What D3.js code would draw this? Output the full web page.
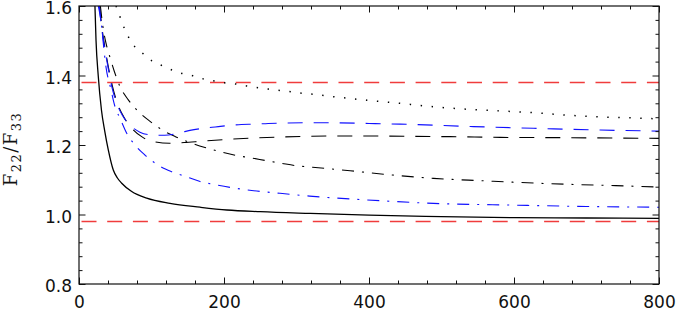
<!DOCTYPE html>
<html>
<head>
<meta charset="utf-8">
<script src="https://cdn.jsdelivr.net/npm/d3@7"></script>
<style>body{margin:0;background:#fff}</style>
</head>
<body>
<svg width="677" height="311"></svg>
<script>
// values
const xMajor = [0, 200, 400, 600, 800];
const yMajor = [0.8, 1.0, 1.2, 1.4, 1.6];
const refLines = [1.38, 0.98];

const solidLine = [[22,1.6],[23.5,1.5],[26.5,1.4],[31,1.3],[35.5,1.24],[40.4,1.186],[47.3,1.128],[53,1.105],[58.9,1.090],
  [72.7,1.066],[93.4,1.047],[125.5,1.032],[167,1.021],[204,1.013],[250,1.008],[319,1.003],[400,0.998],[500,0.994],
  [600,0.991],[700,0.990],[800,0.989]];
const blueDashDot = [[26.6,1.6],[31.3,1.54],[33.5,1.493],[37.2,1.425],[43.7,1.363],[49.7,1.31],[56.6,1.277],[65.8,1.234],
  [77.2,1.2],[91,1.171],[109,1.142],[128,1.123],[148,1.109],[167,1.095],[190,1.085],[231,1.071],[277,1.061],[318,1.053],
  [397,1.042],[489,1.032],[599,1.027],[700,1.023],[800,1.021]];
const blackDashDot = [[29.5,1.6],[33,1.54],[37,1.495],[42.8,1.452],[49,1.41],[56.6,1.368],[68,1.33],[82,1.296],[98,1.268],
  [115,1.243],[133,1.224],[153,1.207],[175,1.192],[194,1.181],[216,1.170],[237,1.163],[258,1.155],[280,1.147],[301,1.140],
  [322,1.136],[374,1.126],[420,1.116],[489,1.104],[558,1.097],[599,1.093],[673,1.087],[740,1.083],[800,1.079]];
const blackDash = [[28.5,1.6],[31.5,1.54],[35,1.49],[40,1.43],[46,1.37],[53,1.32],[62,1.28],[73,1.248],[88,1.222],[105,1.209],
  [125,1.205],[145,1.207],[170,1.211],[204,1.216],[240,1.220],[277,1.223],[314,1.225],[350,1.226],[400,1.226],[450,1.225],
  [512,1.224],[581,1.222],[673,1.221],[800,1.219]];
const blueDash = [[28,1.6],[31,1.54],[34.5,1.49],[39.5,1.43],[45,1.37],[52,1.32],[60,1.285],[70,1.258],[84,1.237],[100,1.229],
  [118,1.228],[139,1.235],[153,1.242],[171,1.248],[188,1.252],[206,1.256],[224,1.259],[243,1.260],[261,1.262],[280,1.263],
  [314,1.264],[340,1.264],[400,1.262],[443,1.260],[544,1.253],[627,1.248],[719,1.243],[800,1.240]];
const dotted = [[51,1.6],[54,1.585],[58,1.56],[68,1.512],[77,1.483],[89,1.462],[100,1.443],[115,1.428],[128,1.416],[142,1.406],
  [158,1.399],[172,1.390],[188,1.384],[201,1.379],[218,1.375],[231,1.370],[247,1.365],[261,1.361],[277,1.357],[293,1.353],
  [307,1.349],[323,1.346],[351,1.339],[397,1.329],[443,1.320],[489,1.310],[535,1.303],[581,1.298],[627,1.293],[673,1.286],
  [719,1.281],[778,1.277],[800,1.275]];

const svg = d3.select("svg");
const pl = 79, pr = 659, pt = 6, pb = 284;

const x = d3.scaleLinear().domain([0, 800]).range([pl, pr]);
const y = d3.scaleLinear().domain([0.8, 1.6]).range([pb, pt]);

const xMinor = d3.range(0, 801, 40).filter(v => v % 200 != 0);
const yMinor = d3.range(0, 21).map(i => 0.8 + i * 0.04).filter((v, i) => i % 5 != 0);

svg.append("clipPath").attr("id", "plot")
  .append("rect").attr("x", pl).attr("y", pt).attr("width", pr - pl).attr("height", pb - pt);

const line = d3.line().x(d => x(d[0])).y(d => y(d[1])).curve(d3.curveMonotoneX);

const g = svg.append("g").attr("clip-path", "url(#plot)");

refLines.forEach(v => {
  g.append("path")
    .attr("d", line([[0, v], [800, v]]))
    .attr("fill", "none").attr("stroke", "#f03c3c").attr("stroke-width", 1.6)
    .attr("stroke-dasharray", "15 10.7").attr("stroke-dashoffset", -2.5);
});

const series = [
  {data: dotted, color: "#000", dash: "1.4 9.6", width: 1.5},
  {data: blackDashDot, color: "#000", dash: "12 8 2 8", width: 1.1},
  {data: blackDash, color: "#000", dash: "15 11", width: 1.1},
  {data: blueDashDot, color: "#1010ff", dash: "12 8 2 8", width: 1.1},
  {data: blueDash, color: "#1010ff", dash: "15 11", width: 1.1},
  {data: solidLine, color: "#000", dash: null, width: 1.3}
];

series.forEach(s => {
  g.append("path")
    .attr("d", line(s.data))
    .attr("fill", "none").attr("stroke", s.color).attr("stroke-width", s.width)
    .attr("stroke-dasharray", s.dash);
});

// axes, ticks pointing inward
function ticks(axis, values, size, labels, tx, ty) {
  const a = svg.append("g").attr("transform", "translate(" + tx + "," + ty + ")")
    .call(axis.tickValues(values).tickSize(size).tickSizeOuter(0).tickPadding(6)
      .tickFormat(labels ? d3.format(".0f") : ""));
  a.select(".domain").remove();
  a.selectAll("line").attr("stroke", "#111").attr("stroke-width", 1);
  a.selectAll("text").attr("font-family", "DejaVu Sans").attr("font-size", 17).attr("fill", "#111");
  return a;
}

const bx = ticks(d3.axisBottom(x), xMajor, -6.5, true, 0, pb);
bx.selectAll("text").attr("y", 12);
ticks(d3.axisBottom(x), xMinor, -3.5, false, 0, pb);
ticks(d3.axisTop(x), xMajor, -6.5, false, 0, pt);
ticks(d3.axisTop(x), xMinor, -3.5, false, 0, pt);

const ly = svg.append("g").attr("transform", "translate(" + pl + ",0)")
  .call(d3.axisLeft(y).tickValues(yMajor).tickSize(-6.5).tickPadding(7).tickSizeOuter(0).tickFormat(d3.format(".1f")));
ly.select(".domain").remove();
ly.selectAll("line").attr("stroke", "#111");
ly.selectAll("text").attr("font-family", "DejaVu Sans").attr("font-size", 17).attr("fill", "#111").attr("dy", "0.45em");
ticks(d3.axisLeft(y), yMinor, -3.5, false, pl, 0);
ticks(d3.axisRight(y), yMajor, -6.5, false, pr, 0);
ticks(d3.axisRight(y), yMinor, -3.5, false, pr, 0);

svg.append("rect")
  .attr("x", pl).attr("y", pt).attr("width", pr - pl).attr("height", pb - pt)
  .attr("fill", "none").attr("stroke", "#111").attr("stroke-width", 1.2);

// y label F22/F33
const lab = svg.append("text")
  .attr("transform", "translate(17,149) rotate(-90)")
  .attr("text-anchor", "middle")
  .attr("font-family", "DejaVu Serif").attr("font-size", 18).attr("fill", "#111")
  .attr("letter-spacing", 1.5);
lab.append("tspan").text("F");
lab.append("tspan").attr("font-size", 13).attr("dy", 4).text("22");
lab.append("tspan").attr("dy", -4).text("/F");
lab.append("tspan").attr("font-size", 13).attr("dy", 4).text("33");
</script>
</body>
</html>
